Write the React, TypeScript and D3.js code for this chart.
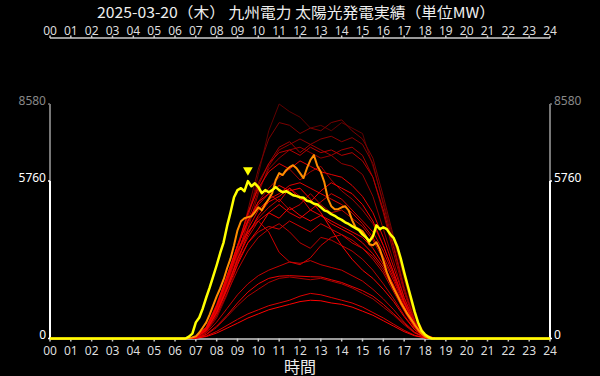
import React from "react";
import * as d3 from "d3";

const TITLE = "2025-03-20（木） 九州電力 太陽光発電実績（単位MW）";
const X_LABEL = "時間";
const hourLabels = ["00","01","02","03","04","05","06","07","08","09","10","11","12","13","14","15","16","17","18","19","20","21","22","23","24"];
const yTickValues = [0, 5760, 8580];

// past days (oldest first), half-hour samples
const halfHourTimes = ["00:00","06:00","06:30","07:00","07:30","08:00","08:30","09:00","09:30","10:00","10:30","11:00","11:30","12:00","12:30","13:00","13:30","14:00","14:30","15:00","15:30","16:00","16:30","17:00","17:30","18:00","18:30","19:00","24:00"];
const day01 = [0, 0,0,30,250,800,1700,2900,4400,6000,7600,8580,8300,8100,7700,7800,7600,7900,7700,7500,6300,5000,3600,2200,800,150,0,0, 0];
const day02 = [0, 0,0,40,280,900,1900,3200,4700,6200,7300,7900,7800,7500,7700,7600,7900,8000,7600,7300,6600,5200,3700,2200,850,160,0,0, 0];
const day03 = [0, 0,0,30,220,750,1600,2700,4000,5300,6300,6900,7100,7300,7100,7300,7400,7200,7350,7100,6400,4900,3400,1900,700,120,0,0, 0];
const day04 = [0, 0,0,40,260,850,1800,3000,4300,5400,6200,6600,6900,7000,6800,6600,6700,6400,6300,6000,5200,4000,2800,1500,550,90,0,0, 0];
const day05 = [0, 0,0,50,300,1000,2000,3300,4600,5700,6400,7000,7200,6800,7100,6900,6700,6900,7000,6700,5900,4600,3100,1700,600,100,0,0, 0];
const day06 = [0, 0,0,50,330,1050,2000,3100,4200,5000,5500,5900,6200,5800,6100,6300,5800,5400,5100,4700,4200,3400,2400,1400,520,90,0,0, 0];
const day07 = [0, 0,0,20,130,400,800,1200,1550,1800,2050,2200,2250,2200,2150,2200,2100,2000,1850,1650,1450,1150,850,500,200,30,0,0, 0];
const day08 = [0, 0,0,50,330,1050,2100,3300,4500,5600,6400,6800,6900,6700,7000,6800,6900,6700,6800,6500,5900,4700,3300,1800,650,110,0,0, 0];
const day09 = [0, 0,0,40,260,850,1650,2500,3200,3700,4000,4200,3900,3500,3300,3700,3600,3400,3200,2900,2500,2000,1450,850,330,50,0,0, 0];
const day10 = [0, 0,0,60,360,1100,2100,3100,3900,4400,4800,5100,4700,4900,5300,4900,4600,4700,4400,4100,3600,2900,2100,1200,450,70,0,0, 0];
const day11 = [0, 0,0,30,200,600,1100,1600,2000,2300,2500,2650,2800,2750,2850,2700,2600,2500,2300,2100,1800,1450,1050,600,240,40,0,0, 0];
const day12 = [0, 0,0,50,320,1000,1900,2900,3700,4300,3900,3150,2800,2700,2950,3400,3700,3800,3600,3300,2900,2400,1700,1000,380,60,0,0, 0];
const day13 = [0, 0,0,50,320,1000,1900,2800,3500,3900,4100,4000,4300,4100,3900,4200,4000,3800,3500,3300,3000,2500,1800,1050,400,60,0,0, 0];
const day14 = [0, 0,0,70,420,1250,2300,3400,4300,4900,5300,5000,5500,5200,4700,5000,5300,5100,4700,4300,3900,3200,2300,1300,500,80,0,0, 0];
const day15 = [0, 0,0,10,90,260,480,700,900,1050,1200,1300,1400,1550,1650,1600,1500,1400,1300,1150,950,750,520,300,120,20,0,0, 0];
const day16 = [0, 0,0,50,350,1100,2100,3200,4000,4700,5100,5300,5600,5700,5500,5300,5100,4900,4600,4200,3700,3000,2200,1300,500,80,0,0, 0];
const day17 = [0, 0,0,60,380,1150,2200,3400,4600,5500,6100,6400,6200,6500,6300,6100,6000,5900,5600,5200,4600,3700,2600,1500,600,120,0,0, 0];
const day18 = [0, 0,0,20,150,450,850,1300,1700,2000,2200,2280,2300,2280,2260,2250,2150,2050,1900,1750,1550,1250,900,550,220,40,0,0, 0];
const day19 = [0, 0,0,60,380,1150,2200,3200,3900,4300,4600,4900,4600,4400,4700,4500,4300,4100,3900,3700,3300,2700,1950,1150,450,80,0,0, 0];
const day20 = [0, 0,0,40,300,950,1850,2900,3800,4500,5000,5200,5500,5100,5000,5400,5700,5500,5300,4900,4300,3400,2400,1350,500,80,0,0, 0];
const day21 = [0, 0,0,40,300,950,1800,2700,3500,4000,4600,4400,4800,4500,4300,4500,4200,4000,3800,3500,3100,2600,1900,1100,420,70,0,0, 0];
const day22 = [0, 0,0,60,400,1200,2300,3400,4300,5000,5300,5600,5400,5500,5100,4600,4000,3400,2900,2500,2200,1800,1350,800,320,50,0,0, 0];
const day23 = [0, 0,0,10,70,200,380,560,750,900,1050,1150,1250,1350,1400,1380,1300,1250,1150,1000,850,650,450,250,100,20,0,0, 0];
const pastDays = [day01, day02, day03, day04, day05, day06, day07, day08, day09, day10, day11, day12, day13, day14, day15, day16, day17, day18, day19, day20, day21, day22, day23];

// yesterday and today, 10-minute samples
const tenMinTimes = ["00:00",
  "06:00","06:10","06:20","06:30","06:40","06:50",
  "07:00","07:10","07:20","07:30","07:40","07:50",
  "08:00","08:10","08:20","08:30","08:40","08:50",
  "09:00","09:10","09:20","09:30","09:40","09:50",
  "10:00","10:10","10:20","10:30","10:40","10:50",
  "11:00","11:10","11:20","11:30","11:40","11:50",
  "12:00","12:10","12:20","12:30","12:40","12:50",
  "13:00","13:10","13:20","13:30","13:40","13:50",
  "14:00","14:10","14:20","14:30","14:40","14:50",
  "15:00","15:10","15:20","15:30","15:40","15:50",
  "16:00","16:10","16:20","16:30","16:40","16:50",
  "17:00","17:10","17:20","17:30","17:40","17:50",
  "18:00","18:10","18:20","18:30",
  "24:00"];
const yesterday = [0,
  0,0,0,0,20,40,
  80,220,400,590,880,1210,
  1540,1830,2160,2570,2930,3410,
  3960,4290,4400,4440,4470,4620,
  4800,4690,4910,5100,5320,5790,
  6050,5980,6160,6270,6340,6230,
  6050,5870,6230,6530,6710,6310,
  6090,5720,5130,4840,4730,4730,
  4800,4840,4690,4330,4070,4000,
  3920,3740,3450,3410,3520,3260,
  2860,2420,2090,1830,1580,1320,
  1100,880,700,510,330,180,
  70,20,0,0,
  0];
const today = [0,
  0,0,0,0,70,180,
  590,770,1100,1500,1870,2270,
  2680,3120,3520,4110,4620,5170,
  5430,5500,5390,5760,5570,5680,
  5540,5320,5430,5350,5430,5540,
  5430,5350,5390,5320,5240,5210,
  5170,5150,5040,5010,4930,4900,
  4800,4690,4640,4550,4490,4400,
  4340,4250,4190,4110,4040,3960,
  3810,3700,3560,3740,4140,4000,
  4070,4000,3810,3670,3370,2930,
  2420,1940,1470,990,590,290,
  150,55,0,0,
  0];

const W = 600;
const H = 376;
const FONT = "'Noto Sans CJK JP', 'Noto Sans', sans-serif";
const NUM_FONT = "'Noto Sans', 'Noto Sans CJK JP', sans-serif";

const toHour = (s: string) => {
  const [h, m] = s.split(":").map(Number);
  return h + m / 60;
};

export default function App() {
  const x = d3.scaleLinear().domain([0, 24]).range([50, 550]);
  const yMax = d3.max(yTickValues) as number;
  const y = d3.scaleLinear().domain([0, yMax]).range([338.5, 104]);
  const todayMax = d3.max(today) as number;

  const line = d3
    .line<[number, number]>()
    .x((d) => x(d[0]))
    .y((d) => y(d[1]));

  const halfHours = halfHourTimes.map(toHour);
  const tenMins = tenMinTimes.map(toHour);
  const color = (i: number) =>
    d3.interpolateRgb("#5e0000", "#ff0000")(Math.pow(i / (pastDays.length - 1), 0.55));

  const peakIdx = today.indexOf(todayMax);
  const peakX = x(tenMins[peakIdx]);
  const peakY = y(todayMax);
  const tri = d3.symbol(d3.symbolTriangle, 42)() as string;

  const hours = d3.range(0, 25);
  const axisY0 = y(0);

  return (
    <svg
      width={W}
      height={H}
      style={{ position: "absolute", left: 0, top: 0, background: "#000", display: "block" }}
      fontFamily={FONT}
    >
      <rect x={0} y={0} width={W} height={H} fill="#000" />
      <text
        x={296}
        y={17.6}
        fill="#eeeeee"
        fontSize={15}
        textAnchor="middle"
        textLength={398}
        lengthAdjust="spacingAndGlyphs"
      >
        {TITLE}
      </text>

      {/* top axis */}
      <line x1={x(0)} x2={x(24)} y1={38} y2={38} stroke="#cccccc" strokeWidth={1.5} />
      {hours.map((h) => (
        <g key={"t" + h}>
          <line x1={x(h)} x2={x(h)} y1={38} y2={35.5} stroke="#cccccc" strokeWidth={1.5} />
          <text x={x(h)} y={35} fill="#dddddd" fontSize={12} textAnchor="middle" fontFamily={NUM_FONT}>
            {hourLabels[h]}
          </text>
        </g>
      ))}

      {/* bottom axis */}
      <line x1={x(0)} x2={x(24)} y1={axisY0 + 0.5} y2={axisY0 + 0.5} stroke="#cccccc" strokeWidth={1.5} />
      {hours.map((h) => (
        <g key={"b" + h}>
          <line x1={x(h)} x2={x(h)} y1={axisY0} y2={axisY0 + 3} stroke="#cccccc" strokeWidth={1.5} />
          <text x={x(h)} y={355} fill="#dddddd" fontSize={12} textAnchor="middle" fontFamily={NUM_FONT}>
            {hourLabels[h]}
          </text>
        </g>
      ))}
      <text x={300} y={372.5} fill="#eeeeee" fontSize={16} textAnchor="middle">
        {X_LABEL}
      </text>

      {/* left / right axes */}
      {[x(0), x(24)].map((ax, k) => (
        <g key={"ax" + k}>
          <line x1={ax} x2={ax} y1={y(yMax)} y2={y(todayMax)} stroke="#777777" strokeWidth={2} />
          <line x1={ax} x2={ax} y1={y(todayMax)} y2={axisY0} stroke="#ffffff" strokeWidth={2} />
          {yTickValues.map((v) => (
            <g key={v}>
              <line
                x1={ax}
                x2={k === 0 ? ax - 2 : ax + 2}
                y1={y(v)}
                y2={y(v)}
                stroke={v === yMax ? "#777777" : "#ffffff"}
                strokeWidth={1.5}
              />
              <text
                x={k === 0 ? ax - 4 : ax + 4}
                y={y(v) + 0.5}
                fill={v === yMax ? "#888888" : "#ffffff"}
                fontSize={12}
                fontFamily={NUM_FONT}
                textAnchor={k === 0 ? "end" : "start"}
              >
                {v}
              </text>
            </g>
          ))}
        </g>
      ))}

      {/* past days */}
      {pastDays.map((vals, i) => (
        <path
          key={"d" + i}
          d={line(vals.map((v, j) => [halfHours[j], v] as [number, number])) as string}
          fill="none"
          stroke={color(i)}
          strokeWidth={1}
          strokeLinejoin="round"
        />
      ))}

      {/* yesterday */}
      <path
        d={line(yesterday.map((v, j) => [tenMins[j], v] as [number, number])) as string}
        fill="none"
        stroke="#ff8c00"
        strokeWidth={2}
        strokeLinejoin="round"
      />
      {/* today */}
      <path
        d={line(today.map((v, j) => [tenMins[j], v] as [number, number])) as string}
        fill="none"
        stroke="#ffff00"
        strokeWidth={2.5}
        strokeLinejoin="round"
      />
      <path
        d={tri}
        transform={`translate(${peakX},${peakY - 11}) rotate(180)`}
        fill="#ffff00"
      />
    </svg>
  );
}
